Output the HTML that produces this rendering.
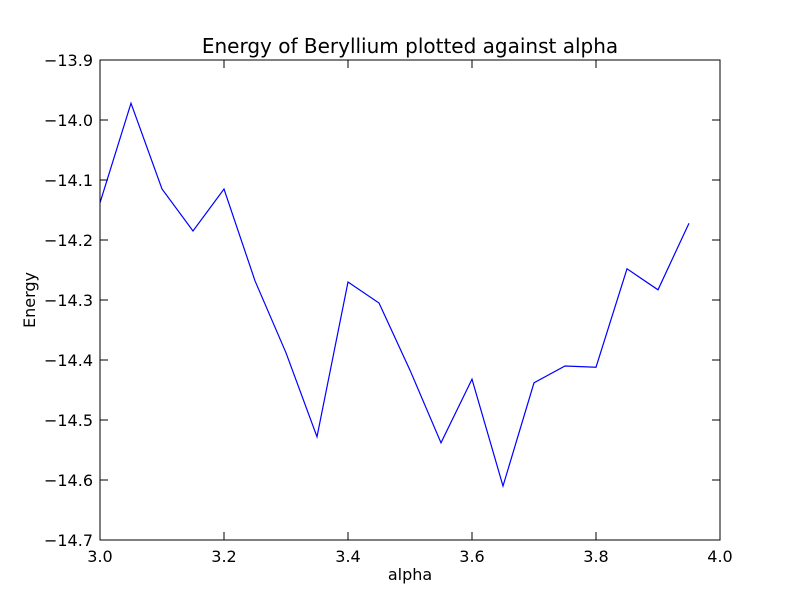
<!DOCTYPE html>
<html><head><meta charset="utf-8"><style>
html,body{margin:0;padding:0;background:#fff;}
svg{display:block;font-family:"DejaVu Sans","Liberation Sans",sans-serif;}
</style></head><body>
<svg id="chart" width="800" height="600">
<rect width="800" height="600" fill="#fff"/>
<text x="410" y="53" font-size="20" text-anchor="middle">Energy of Beryllium plotted against alpha</text>
<text x="410" y="580" font-size="16" text-anchor="middle">alpha</text>
<text x="35" y="300" font-size="16" text-anchor="middle" transform="rotate(-90 35 300)">Energy</text>
<g id="ticks"></g>
<polyline id="line" fill="none" stroke="#0000ff" stroke-width="1.2"/>
<rect x="100" y="60" width="620" height="480" fill="none" stroke="#000" stroke-width="1"/>
</svg>
<script>
const alphaValues = [3.00,3.05,3.10,3.15,3.20,3.25,3.30,3.35,3.40,3.45,3.50,3.55,3.60,3.65,3.70,3.75,3.80,3.85,3.90,3.95];
const energyValues = [-14.138,-13.972,-14.115,-14.185,-14.115,-14.268,-14.388,-14.528,-14.270,-14.305,-14.417,-14.538,-14.432,-14.610,-14.438,-14.410,-14.412,-14.248,-14.283,-14.172];
const xTicks = [3.0,3.2,3.4,3.6,3.8,4.0];
const yTicks = [-13.9,-14.0,-14.1,-14.2,-14.3,-14.4,-14.5,-14.6,-14.7];
const X0=100,X1=720,Y0=60,Y1=540,xmin=3.0,xmax=4.0,ymin=-14.7,ymax=-13.9;
const sx=v=>X0+(v-xmin)/(xmax-xmin)*(X1-X0);
const sy=v=>Y1-(v-ymin)/(ymax-ymin)*(Y1-Y0);
const NS="http://www.w3.org/2000/svg";
const g=document.getElementById('ticks');
function mk(tag,attrs){const e=document.createElementNS(NS,tag);for(const k in attrs)e.setAttribute(k,attrs[k]);return e;}
xTicks.forEach(t=>{
  const x=sx(t);
  const a=mk('line',{x1:x,x2:x,y1:Y1,y2:Y1-8,stroke:'#000'});
  
  
  g.appendChild(a);
  const b=mk('line',{x1:x,x2:x,y1:Y0,y2:Y0+8,stroke:'#000'});
  
  
  g.appendChild(b);
  const tx=mk('text',{x:x,y:Y1+22,'font-size':16,'text-anchor':'middle'});
  tx.textContent=t.toFixed(1);
  
  
  g.appendChild(tx);
});
yTicks.forEach(t=>{
  const y=sy(t);
  const a=mk('line',{x1:X0,x2:X0+8,y1:y,y2:y,stroke:'#000'});
  
  
  g.appendChild(a);
  const b=mk('line',{x1:X1,x2:X1-8,y1:y,y2:y,stroke:'#000'});
  
  
  g.appendChild(b);
  const tx=mk('text',{x:X0-7,y:y+6,'font-size':16,'text-anchor':'end'});
  tx.textContent='\u2212'+Math.abs(t).toFixed(1);
  
  
  g.appendChild(tx);
});
document.getElementById('line').setAttribute('points',alphaValues.map((a,i)=>sx(a)+','+sy(energyValues[i])).join(' '));
</script>
</body></html>
